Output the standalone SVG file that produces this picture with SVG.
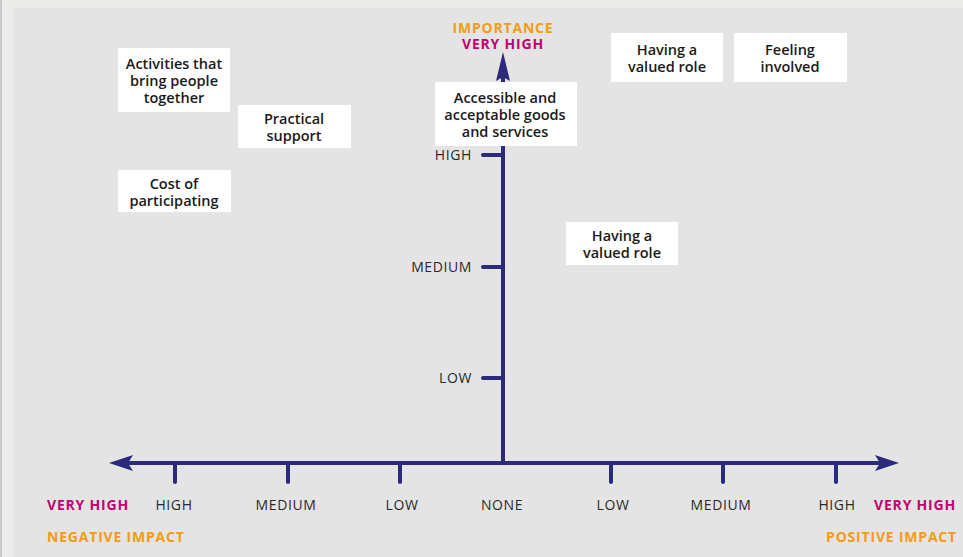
<svg xmlns="http://www.w3.org/2000/svg" width="963" height="557" viewBox="0 0 963 557">
<defs>
<style>
.box{fill:#ffffff}
.bt{font-family:"Open Sans","Noto Sans","Liberation Sans",sans-serif;font-weight:600;font-size:14.5px;fill:#1a1a1a;text-anchor:middle}
.ax{stroke:#2b2a7c;stroke-width:4;fill:none;stroke-linecap:round}
.lbl{font-family:"Open Sans","Noto Sans","Liberation Sans",sans-serif;font-size:14px;letter-spacing:0.6px;fill:#2a2a2a}
.mag{font-family:"Open Sans","Noto Sans","Liberation Sans",sans-serif;font-weight:700;font-size:14px;letter-spacing:0.8px;fill:#c4006f}
.org{font-family:"Open Sans","Noto Sans","Liberation Sans",sans-serif;font-weight:700;font-size:14px;letter-spacing:0.8px;fill:#f39c12}
</style>
</defs>
<rect x="0" y="0" width="963" height="557" fill="#ebecea"/>
<rect x="0" y="0" width="2" height="557" fill="#c9c9c9"/>
<rect x="14" y="8" width="949" height="549" fill="#e3e4e3"/>

<g id="connectors">
<line class="ax" x1="503" y1="463" x2="503" y2="70"/>
<polygon points="503,52 510,81 503,77 496,81" fill="#2b2a7c"/>
<line class="ax" x1="125" y1="463" x2="885" y2="463"/>
<polygon points="109,463 133,455 128,463 133,471" fill="#2b2a7c"/>
<polygon points="899,463 875,455 880,463 875,471" fill="#2b2a7c"/>
<line class="ax" x1="175" y1="463" x2="175" y2="482"/>
<line class="ax" x1="288" y1="463" x2="288" y2="482"/>
<line class="ax" x1="400" y1="463" x2="400" y2="482"/>
<line class="ax" x1="611" y1="463" x2="611" y2="482"/>
<line class="ax" x1="723" y1="463" x2="723" y2="482"/>
<line class="ax" x1="836" y1="463" x2="836" y2="482"/>
<line class="ax" x1="483" y1="155" x2="503" y2="155"/>
<line class="ax" x1="483" y1="267" x2="503" y2="267"/>
<line class="ax" x1="483" y1="378" x2="503" y2="378"/>
</g>

<g id="axis-labels">
<text class="org" x="503" y="33" text-anchor="middle">IMPORTANCE</text>
<text class="mag" x="503" y="49" text-anchor="middle">VERY HIGH</text>
<text class="lbl" x="472" y="160" text-anchor="end">HIGH</text>
<text class="lbl" x="472" y="272" text-anchor="end">MEDIUM</text>
<text class="lbl" x="472" y="383" text-anchor="end">LOW</text>
<text class="mag" x="47" y="510">VERY HIGH</text>
<text class="lbl" x="174" y="510" text-anchor="middle">HIGH</text>
<text class="lbl" x="286" y="510" text-anchor="middle">MEDIUM</text>
<text class="lbl" x="402" y="510" text-anchor="middle">LOW</text>
<text class="lbl" x="502" y="510" text-anchor="middle">NONE</text>
<text class="lbl" x="613" y="510" text-anchor="middle">LOW</text>
<text class="lbl" x="721" y="510" text-anchor="middle">MEDIUM</text>
<text class="lbl" x="837" y="510" text-anchor="middle">HIGH</text>
<text class="mag" x="956" y="510" text-anchor="end">VERY HIGH</text>
<text class="org" x="47" y="542">NEGATIVE IMPACT</text>
<text class="org" x="957" y="542" text-anchor="end">POSITIVE IMPACT</text>
</g>

<g id="n-activities">
<rect class="box" x="118" y="48" width="112" height="64"/>
<text class="bt" x="174" y="69">Activities that</text>
<text class="bt" x="174" y="86">bring people</text>
<text class="bt" x="174" y="103">together</text>
</g>
<g id="n-practical">
<rect class="box" x="238" y="105" width="113" height="43"/>
<text class="bt" x="294" y="124">Practical</text>
<text class="bt" x="294" y="141">support</text>
</g>
<g id="n-cost">
<rect class="box" x="118" y="170" width="113" height="42"/>
<text class="bt" x="174" y="189">Cost of</text>
<text class="bt" x="174" y="206">participating</text>
</g>
<g id="n-accessible">
<rect class="box" x="435" y="82" width="142" height="64"/>
<text class="bt" x="505" y="103">Accessible and</text>
<text class="bt" x="505" y="120">acceptable goods</text>
<text class="bt" x="505" y="137">and services</text>
</g>
<g id="n-valued-top">
<rect class="box" x="611" y="33" width="112" height="49"/>
<text class="bt" x="667" y="55">Having a</text>
<text class="bt" x="667" y="72">valued role</text>
</g>
<g id="n-feeling">
<rect class="box" x="734" y="33" width="113" height="49"/>
<text class="bt" x="790" y="55">Feeling</text>
<text class="bt" x="790" y="72">involved</text>
</g>
<g id="n-valued-mid">
<rect class="box" x="566" y="222" width="112" height="43"/>
<text class="bt" x="622" y="241">Having a</text>
<text class="bt" x="622" y="258">valued role</text>
</g>
</svg>
